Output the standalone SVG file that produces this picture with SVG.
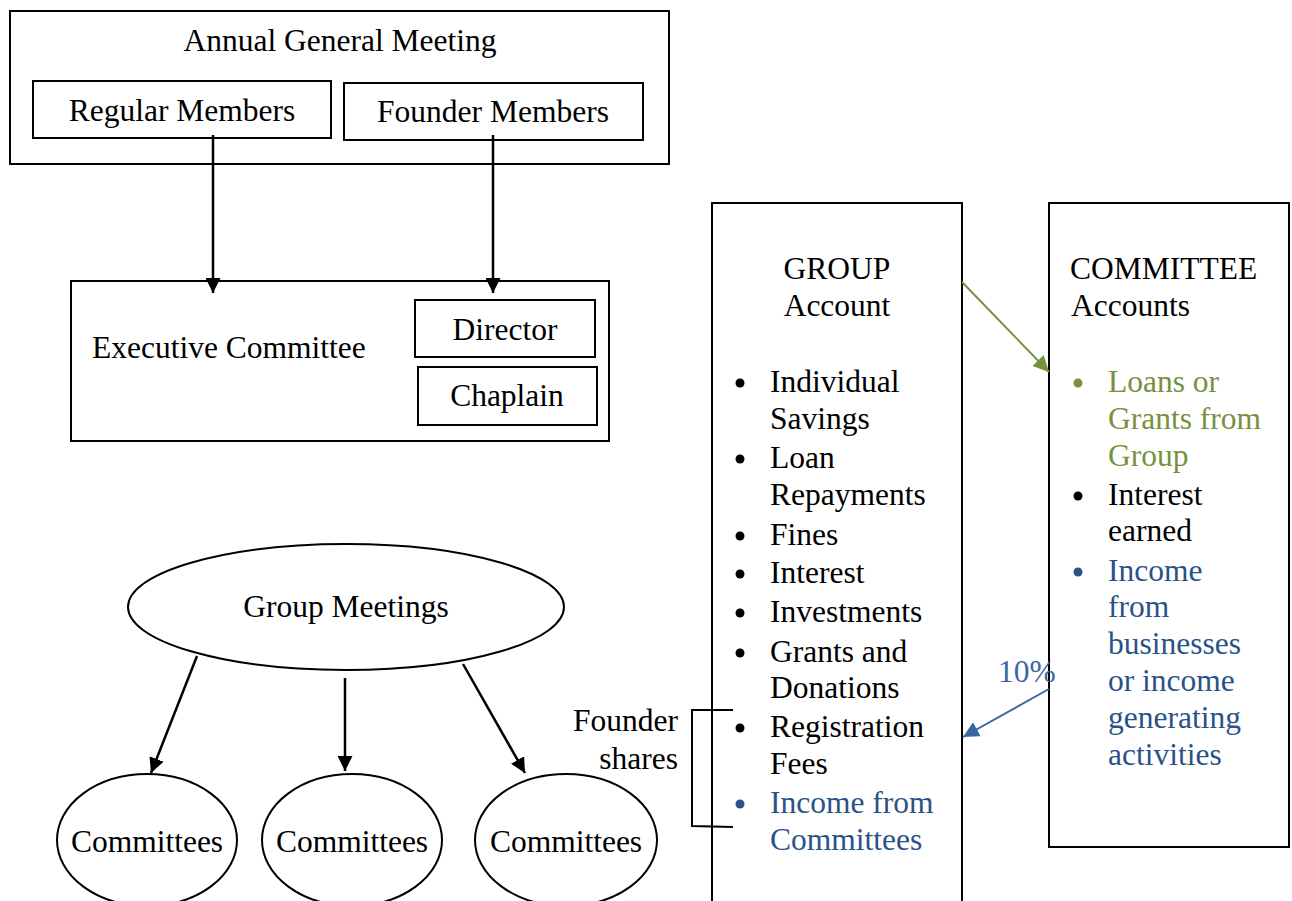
<svg xmlns="http://www.w3.org/2000/svg" width="1292" height="901" viewBox="0 0 1292 901">
<style>
text{font-family:"Liberation Serif","Times New Roman",serif;font-size:31.5px;fill:#000}
.box{fill:#fff;stroke:#000;stroke-width:2}
.c{text-anchor:middle}
.g{fill:#76923C}
.b{fill:#2A5288}
.conn{stroke:#000;stroke-width:2.5;fill:none}
</style>
<defs>
<marker id="ah" viewBox="0 0 10 10" refX="10" refY="5" markerWidth="6" markerHeight="6" markerUnits="strokeWidth" orient="auto"><path d="M0,0 L10,5 L0,10 z" fill="#000"/></marker>
<marker id="ahg" viewBox="0 0 10 10" refX="10" refY="5" markerWidth="8" markerHeight="8" markerUnits="strokeWidth" orient="auto"><path d="M0,0 L10,5 L0,10 z" fill="#76923C"/></marker>
<marker id="ahb" viewBox="0 0 10 10" refX="10" refY="5" markerWidth="8" markerHeight="8" markerUnits="strokeWidth" orient="auto"><path d="M0,0 L10,5 L0,10 z" fill="#3B67A0"/></marker>
</defs>
<rect width="1292" height="901" fill="#fff"/>

<g id="agm">
<rect class="box" x="10" y="11" width="659" height="153"/>
<text class="c" x="340" y="51">Annual General Meeting</text>
</g>
<g id="regular">
<rect class="box" x="33" y="81" width="298" height="57"/>
<text class="c" x="182" y="121">Regular Members</text>
</g>
<g id="founder">
<rect class="box" x="344" y="83" width="299" height="57"/>
<text class="c" x="493" y="122">Founder Members</text>
</g>
<g id="exec">
<rect class="box" x="71" y="281" width="538" height="160"/>
<text x="92" y="358">Executive Committee</text>
</g>
<g id="director">
<rect class="box" x="415" y="300" width="180" height="57"/>
<text class="c" x="505" y="340">Director</text>
</g>
<g id="chaplain">
<rect class="box" x="418" y="367" width="179" height="58"/>
<text class="c" x="507" y="406">Chaplain</text>
</g>

<g id="groupmeetings">
<ellipse class="box" cx="346" cy="607" rx="218" ry="63"/>
<text class="c" x="346" y="617">Group Meetings</text>
</g>
<g id="committees1">
<ellipse class="box" cx="147" cy="840" rx="90" ry="66"/>
<text class="c" x="147" y="852">Committees</text>
</g>
<g id="committees2">
<ellipse class="box" cx="352" cy="840" rx="90" ry="66"/>
<text class="c" x="352" y="852">Committees</text>
</g>
<g id="committees3">
<ellipse class="box" cx="566" cy="840" rx="91" ry="66"/>
<text class="c" x="566" y="852">Committees</text>
</g>

<g id="groupaccount">
<rect class="box" x="712" y="203" width="250" height="720"/>
<text class="c" x="837" y="279">GROUP</text>
<text class="c" x="837" y="316">Account</text>
<g>
<circle cx="740" cy="383" r="4.5"/>
<text x="770" y="392">Individual</text>
<text x="770" y="429">Savings</text>
<circle cx="740" cy="459" r="4.5"/>
<text x="770" y="468">Loan</text>
<text x="770" y="505">Repayments</text>
<circle cx="740" cy="536" r="4.5"/>
<text x="770" y="545">Fines</text>
<circle cx="740" cy="574" r="4.5"/>
<text x="770" y="583">Interest</text>
<circle cx="740" cy="613" r="4.5"/>
<text x="770" y="622">Investments</text>
<circle cx="740" cy="653" r="4.5"/>
<text x="770" y="662">Grants and</text>
<text x="770" y="698">Donations</text>
<circle cx="740" cy="728" r="4.5"/>
<text x="770" y="737">Registration</text>
<text x="770" y="774">Fees</text>
<circle cx="740" cy="804" r="4.5" fill="#2A5288"/>
<text class="b" x="770" y="813">Income from</text>
<text class="b" x="770" y="850">Committees</text>
</g>
</g>

<g id="committeeaccounts">
<rect class="box" x="1049" y="203" width="240" height="644"/>
<text x="1070" y="279">COMMITTEE</text>
<text x="1071" y="316">Accounts</text>
<circle cx="1078" cy="383" r="4.5" fill="#76923C"/>
<text class="g" x="1108" y="392">Loans or</text>
<text class="g" x="1108" y="429">Grants from</text>
<text class="g" x="1108" y="466">Group</text>
<circle cx="1078" cy="496" r="4.5"/>
<text x="1108" y="505">Interest</text>
<text x="1108" y="541">earned</text>
<circle cx="1078" cy="572" r="4.5" fill="#2A5288"/>
<text class="b" x="1108" y="581">Income</text>
<text class="b" x="1108" y="617">from</text>
<text class="b" x="1108" y="654">businesses</text>
<text class="b" x="1108" y="691">or income</text>
<text class="b" x="1108" y="728">generating</text>
<text class="b" x="1108" y="765">activities</text>
</g>

<g id="foundershares">
<text x="678" y="731" text-anchor="end">Founder</text>
<text x="678" y="769" text-anchor="end">shares</text>
<path d="M733,710 L692,710 L692,826 L733,827" fill="none" stroke="#000" stroke-width="2"/>
</g>

<g id="connectors">
<line class="conn" x1="213" y1="135" x2="213" y2="293" marker-end="url(#ah)"/>
<line class="conn" x1="493" y1="135" x2="493" y2="293" marker-end="url(#ah)"/>
<line class="conn" x1="197" y1="656" x2="151" y2="773" marker-end="url(#ah)"/>
<line class="conn" x1="345" y1="678" x2="345" y2="771" marker-end="url(#ah)"/>
<line class="conn" x1="463" y1="664" x2="525" y2="773" marker-end="url(#ah)"/>
<line x1="962" y1="282" x2="1049" y2="372" stroke="#76923C" stroke-width="2" marker-end="url(#ahg)"/>
<line x1="1049" y1="689" x2="963" y2="737" stroke="#3B67A0" stroke-width="2" marker-end="url(#ahb)"/>
<text x="998" y="682" fill="#3B67A0" style="fill:#3B67A0">10%</text>
</g>
</svg>
